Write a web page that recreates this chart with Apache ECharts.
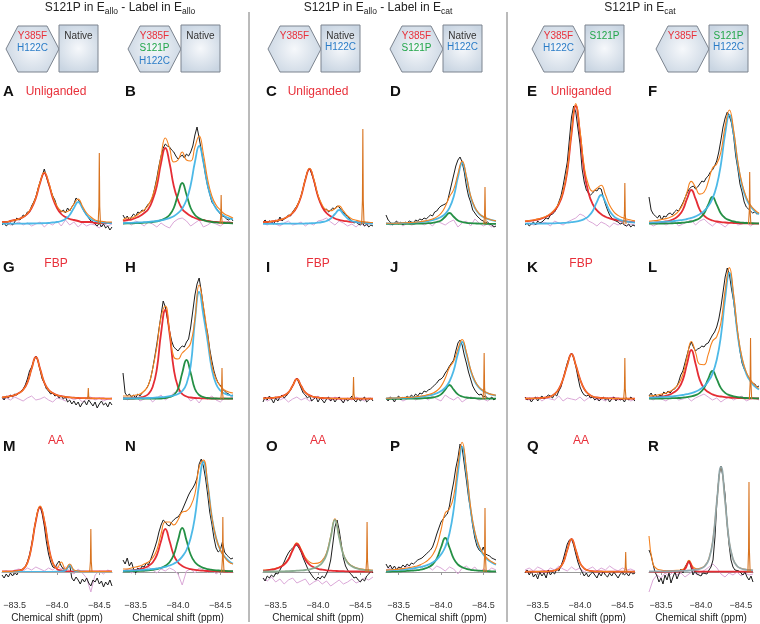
<!DOCTYPE html>
<html>
<head>
<meta charset="utf-8">
<script src="https://cdn.jsdelivr.net/npm/echarts@6/dist/echarts.min.js"></script>
<style>
  html, body { margin: 0; padding: 0; background: #fff; }
  #chart { width: 760px; height: 624px; }
</style>
</head>
<body>
<div id="chart"></div>
<script>
// chemical shift grids (ppm): coarse one for fitted curves, fine one for the spectra
const ppmGrid = [-83.35,-83.4,-83.45,-83.5,-83.55,-83.6,-83.65,-83.7,-83.75,-83.8,-83.85,-83.9,-83.95,-84,-84.05,-84.1,-84.15,-84.2,-84.25,-84.3,-84.35,-84.4,-84.45,-84.5,-84.55,-84.6,-84.65];
const ppmFine = [-83.35,-83.375,-83.4,-83.425,-83.45,-83.475,-83.5,-83.525,-83.55,-83.575,-83.6,-83.625,-83.65,-83.675,-83.7,-83.725,-83.75,-83.775,-83.8,-83.825,-83.85,-83.875,-83.9,-83.925,-83.95,-83.975,-84,-84.025,-84.05,-84.075,-84.1,-84.125,-84.15,-84.175,-84.2,-84.225,-84.25,-84.275,-84.3,-84.325,-84.35,-84.375,-84.4,-84.425,-84.45,-84.475,-84.5,-84.525,-84.55,-84.575,-84.6,-84.625,-84.65];
const tickValues = [-83.5, -84, -84.5];

const panelIds = ['A','B','C','D','E','F','G','H','I','J','K','L','M','N','O','P','Q','R'];
const conditions = ['Unliganded', 'FBP', 'AA'];

// reference peak (position, height) per panel
const spikePpm = [-84.50,-84.51,-84.53,-84.52,-84.53,-84.54,-84.37,-84.52,-84.42,-84.51,-84.53,-84.55,-84.40,-84.53,-84.58,-84.52,-84.54,-84.60];
const spikeHeight = [71,29,95,37,41,52,11,31,22,46,41,61,43,55,50,64,20,90];

// ---- A ----
const specA = [-1,1,-2,0,1,-1,2,6,4,5,9,8,12,12,18,22,27,35,42,48,55,47,40,34,28,24,17,15,12,14,11,16,13,17,20,26,24,22,16,12,9,6,3,2,0,-2,1,-3,0,-4,-2,-6,-3];
const fitA = [2,2,3,4,5,7,10.5,16.5,26.6,41.7,51.8,42,27.5,18,13,12,14,20,25,18,11,7,4,3,2.5,2,2];
const residA = [0,1,-1,0,2,-1,1,-2,0,2,-3,1,-1,3,-2,4,-1,2,-3,1,-2,0,-1,-4,1,-2,0];
const redA = [2,2,3,4,5,7,10,16,26,41,51,41,26,16,10,7,5,4,3,2,2,2,1,1,1,1,1];
const blueA = [0.3,0.3,0.3,0.4,0.4,0.4,0.5,0.5,0.6,0.7,0.8,1,1.5,2,3,5,9,16,22,16,9,5,3,2,1.5,1,0.8];
// ---- B ----
const specB = [9,5,8,4,7,10,8,12,11,14,13,17,20,22,27,36,46,58,68,76,80,78,77,74,72,68,65,67,69,66,70,68,72,78,89,97,86,74,62,49,38,30,22,19,16,13,10,8,7,5,4,6,3];
const fitB = [4,6,6,8,11,14,19,28,44,68,86,76,62,64,72,64,63,77,88,70,45,28,19,14,10,8,6];
const residB = [0,2,-1,3,1,-2,2,0,-3,1,-2,-4,2,5,6,3,-2,1,4,-3,-1,2,0,-2,1,3,0];
const redB = [3,4,4.5,6,8,11,15,24,38,61,76,61,38,24,15,11,8,6,4.5,4,3,2.4,2,1.7,1.5,1.3,1.1];
const greenB = [0.5,0.6,0.7,0.8,1,1.3,1.6,2,2.7,3.8,5.7,9,16,29.5,41,29.5,16,9,5.7,3.8,2.7,2,1.6,1.3,1,0.9,0.7];
const blueB = [0.9,1.1,1.2,1.4,1.6,1.8,2.1,2.5,3,3.7,4.6,5.9,7.8,10.9,15.6,24,39,62,78,62,39,24,15.6,10.9,7.8,5.9,4.6];
// ---- C ----
const specC = [2,4,1,3,2,0,4,2,7,3,5,6,9,8,12,15,18,22,28,36,45,52,56,50,44,35,28,22,18,14,15,12,14,16,15,18,17,14,12,9,8,5,3,1,2,0,-1,1,-2,0,-3,-1,-2];
const fitC = [2,2,2.6,3.2,4.1,5.5,8,11.3,17.4,27.9,44.5,55.7,44.9,28.8,19,14,13.2,15.5,18.1,13.2,8.1,5.1,3.8,2.8,2.2,1.8,1.5];
const residC = [1,-1,2,0,-2,1,3,-1,0,2,-2,1,-1,3,4,6,2,-1,3,1,-2,0,-3,1,-2,0,1];
const redC = [2,2,2.6,3.2,4.1,5.5,7.7,11,17,27.5,44,55,44,27.5,17,11,7.7,5.5,4.1,3.2,2.6,2.1,1.8,1.5,1.3,1.1,1];
const blueC = [0.2,0.2,0.2,0.2,0.2,0.3,0.3,0.3,0.4,0.4,0.5,0.7,0.9,1.3,2,3,5.5,10,14,10,5.5,3,2,1.3,0.9,0.7,0.5];
// ---- D ----
const specD = [9,4,2,-1,1,3,0,2,-1,2,1,3,2,1,4,3,5,4,6,5,7,9,8,12,13,16,18,19,20,22,31,40,49,58,64,67,62,52,38,28,22,14,11,8,6,4,3,1,2,0,-1,-3,-2];
const fitD = [0.7,0.7,0.8,0.9,1.2,1.3,1.5,1.9,2.3,2.9,3.7,5,7.1,10.6,17.5,27.2,34.6,50.2,63,47.8,28.1,16.8,10.6,7.3,5.3,4,3.1];
const residD = [1,-1,0,2,-2,1,-1,0,2,-1,1,-2,3,1,-1,2,4,-3,1,3,-2,5,1,-2,0,-3,1];
const greenD = [0.1,0.1,0.1,0.1,0.2,0.2,0.2,0.3,0.4,0.6,0.8,1.2,2,3.6,7.3,11,7.3,3.6,2,1.2,0.8,0.6,0.4,0.3,0.2,0.2,0.2];
const blueD = [0.6,0.6,0.7,0.8,1,1.1,1.3,1.6,1.9,2.3,2.9,3.8,5.1,7,10.2,16.2,27.3,46.6,61,46.6,27.3,16.2,10.2,7,5.1,3.8,2.9];
// ---- E ----
const specE = [-1,1,-2,0,2,-1,3,1,2,4,6,5,9,10,12,16,22,28,38,50,62,85,107,118,112,96,80,55,42,34,31,29,31,34,33,36,35,27,20,14,9,6,4,3,2,0,1,-1,-2,0,-3,-1,-2];
const fitE = [2.9,3.4,4,4.9,6.1,7.8,10.4,14.3,20.7,32.4,54.1,92,120.4,93.5,57.6,39,32.8,35.8,38.8,29.5,18.7,12.2,8.6,6.4,5,4,3.3];
const residE = [0,1,-1,0,2,1,-2,3,1,-1,2,4,6,10,8,3,1,-2,2,0,-3,1,-1,2,-2,0,-1];
const redE = [2.6,3.1,3.7,4.5,5.7,7.3,9.8,13.6,19.8,31.3,52.7,90.2,118,90.2,52.7,31.3,19.8,13.6,9.8,7.3,5.7,4.5,3.7,3.1,2.6,2.2,1.9];
const blueE = [0.3,0.3,0.3,0.4,0.4,0.5,0.6,0.7,0.9,1.1,1.4,1.8,2.4,3.3,4.9,7.7,13,22.2,29,22.2,13,7.7,4.9,3.3,2.4,1.8,1.4];
// ---- F ----
const specF = [27,14,10,8,6,9,4,8,7,10,11,9,12,14,13,17,21,26,31,35,37,38,35,37,40,43,42,46,48,52,54,58,63,72,84,97,106,112,108,101,88,68,55,40,32,22,17,15,13,11,12,10,11];
const fitF = [2.7,3.2,3.6,4.5,5.4,6.8,9,12.9,19.7,32.1,42.6,36.7,29.9,31.7,42.3,55.8,60.1,72.1,97.8,114,93.9,62.3,40.3,26.9,19,14,10.8];
const residF = [1,-2,0,2,-1,1,3,-2,0,2,4,-1,3,5,1,-2,2,0,-3,1,3,-1,0,2,-2,1,0];
const redF = [1,1.2,1.5,1.9,2.5,3.5,5.2,8.3,14.2,25.3,34,25.3,14.2,8.3,5.2,3.5,2.5,1.9,1.5,1.2,1,0.8,0.7,0.6,0.5,0.45,0.4];
const greenF = [0.3,0.35,0.4,0.46,0.57,0.68,0.84,1,1.35,1.8,2.5,3.8,5.9,10.5,19.4,27,19.4,10.5,5.9,3.8,2.5,1.8,1.35,1,0.84,0.68,0.57];
const blueF = [1.4,1.6,1.7,2.1,2.3,2.6,3,3.6,4.1,5,6.1,7.6,9.8,12.9,17.7,25.3,38.2,59.7,90.4,109,90.4,59.7,38.2,25.3,17.7,12.9,9.8];
// ---- G ----
const specG = [2,-1,3,1,4,2,5,4,6,8,10,14,20,28,32,38,43,38,29,20,16,10,8,5,6,3,4,1,3,0,2,-3,-1,-5,-2,-6,-3,-8,-4,-2,-6,-1,-4,-7,-3,-9,-5,-2,-6,-4,-8,-3,-6];
const fitG = [1.6,2.1,2.8,3.9,5.9,9.2,16.4,30.2,42,30.2,16.4,9.2,5.9,3.9,2.8,2.1,1.6,1.3,1,0.9,0.8,0.7,0.6,0.55,0.5,0.45,0.4];
const residG = [0,1,-1,2,0,-2,1,3,-1,0,2,-1,-3,1,0,-2,2,-1,1,-3,0,2,-1,1,-2,0,1];
const redG = [1.6,2.1,2.8,3.9,5.9,9.2,16.4,30.2,42,30.2,16.4,9.2,5.9,3.9,2.8,2.1,1.6,1.3,1,0.9,0.8,0.7,0.6,0.55,0.5,0.45,0.4];
// ---- H ----
const specH = [26,6,3,5,2,4,1,5,3,6,8,10,14,20,30,42,55,70,84,98,92,80,68,58,52,50,48,51,53,52,57,60,72,88,104,115,121,108,92,76,66,50,38,28,21,16,14,10,8,6,5,3,4];
const fitH = [3,3,3,4,5,8,14,30,52,82,93,68,42,40,46,50,56,80,114,93,64,34,20,13,9,7,6];
const residH = [2,-1,1,3,-2,0,2,-3,1,4,-1,2,6,8,5,3,-2,1,-4,2,0,3,-1,-3,1,0,2];
const redH = [0.5,0.5,0.5,0.8,1.5,2.5,5,12,30,66,89,66,30,12,5,2.5,1.5,1,0.8,0.6,0.5,0.5,0.4,0.4,0.3,0.3,0.3];
const greenH = [0.3,0.3,0.3,0.3,0.3,0.3,0.3,0.4,0.5,0.5,1,2,4,10,26,39,26,10,4,2,1,0.5,0.5,0.4,0.3,0.3,0.3];
const blueH = [0.5,0.5,0.6,0.7,0.8,0.9,1,1.2,1.5,1.8,2.2,2.8,3.5,5,8,15,33,78,107,84,58,30,15,8.5,5.5,4,3];
// ---- I ----
const specI = [-3,2,-1,3,0,-4,1,-2,2,4,1,3,6,9,13,18,21,16,11,6,4,1,3,-2,0,2,-3,1,-1,-4,0,2,-2,1,-3,0,2,-1,-4,1,-2,0,3,-1,-3,1,-2,0,2,-3,-1,1,-2];
const fitI = [0.6,0.8,1,1.5,2.2,3.6,6.6,13.2,20,13.2,6.6,3.6,2.2,1.5,1,0.8,0.6,0.5,0.5,0.4,0.4,0.3,0.3,0.3,0.3,0.3,0.3];
const residI = [1,-2,0,2,-1,1,-3,0,2,-1,1,-2,0,3,-1,1,-2,2,0,-3,1,-1,2,0,-2,1,0];
const redI = [0.6,0.8,1,1.5,2.2,3.6,6.6,13.2,20,13.2,6.6,3.6,2.2,1.5,1,0.8,0.6,0.5,0.5,0.4,0.4,0.3,0.3,0.3,0.3,0.3,0.3];
// ---- J ----
const specJ = [1,-2,2,0,-3,1,3,-1,2,0,3,1,4,2,5,3,6,5,8,7,9,10,12,14,16,19,20,22,26,29,33,36,39,48,56,59,54,44,36,27,20,13,9,6,4,5,2,3,1,0,2,-1,1];
const fitJ = [0.8,0.9,1,1.1,1.5,1.6,1.8,2.2,2.7,3.5,4.4,5.8,8.2,12.6,20.7,31.5,37.8,49.9,59.5,46.8,29.5,18.3,11.9,8.4,6,4.6,3.7];
const residJ = [0,2,-1,1,-2,0,3,-1,1,2,-1,3,0,-2,4,1,-1,2,-3,0,2,1,-1,0,-2,1,0];
const greenJ = [0.1,0.1,0.1,0.1,0.3,0.3,0.3,0.4,0.5,0.8,1,1.5,2.5,4.6,9.3,14,9.3,4.6,2.5,1.5,1,0.8,0.5,0.4,0.3,0.3,0.3];
const blueJ = [0.7,0.8,0.9,1,1.2,1.3,1.5,1.8,2.2,2.7,3.4,4.3,5.7,8,11.4,17.5,28.5,45.3,57,45.3,28.5,17.5,11.4,8,5.7,4.3,3.4];
// ---- K ----
const specK = [2,-1,1,-3,0,2,-2,1,3,0,2,4,3,1,5,3,8,12,20,28,36,42,46,41,33,22,12,7,4,3,4,1,2,-1,1,-2,0,2,-1,1,-3,0,2,-2,1,-1,0,-3,1,-1,2,0,-2];
const fitK = [0.5,0.5,0.6,0.8,1,1.5,2.5,5,10,20,34,45,34,20,10,5,2.5,1.5,1,0.8,0.6,0.5,0.5,0.4,0.4,0.3,0.3];
const residK = [1,-1,0,2,-2,1,0,-1,3,-2,1,0,-1,2,-2,1,3,-1,0,-2,1,2,-1,0,1,-2,0];
const redK = [0.5,0.5,0.6,0.8,1,1.5,2.5,5,10,20,34,45,34,20,10,5,2.5,1.5,1,0.8,0.6,0.5,0.5,0.4,0.4,0.3,0.3];
// ---- L ----
const specL = [3,6,2,5,1,4,3,7,5,8,6,9,10,12,17,24,28,36,44,52,57,52,48,50,51,53,52,55,56,60,64,67,72,80,92,107,122,131,125,110,98,80,64,48,36,30,26,22,18,16,15,12,13];
const fitL = [2.9,3.4,4,4.9,6,7.8,10.7,15.2,24.5,42,57.5,46.6,34.7,34.3,44.6,57.8,62.3,76.4,108.8,131.4,104.6,65.9,41.2,26.9,19.1,13.9,10.6];
const residL = [1,-1,2,0,-2,1,3,-1,0,2,-2,1,3,5,2,-1,1,-3,0,2,-1,1,3,-2,0,1,-1];
const redL = [1.2,1.5,1.9,2.5,3.2,4.6,6.9,10.8,19.1,35.3,49,35.3,19.1,10.8,6.9,4.6,3.2,2.5,1.9,1.5,1.2,1,0.8,0.7,0.6,0.55,0.5];
const greenL = [0.3,0.35,0.4,0.5,0.6,0.7,0.9,1,1.4,1.9,2.6,3.9,6.1,10.9,20.1,28,20.1,10.9,6.1,3.9,2.6,1.9,1.4,1,0.9,0.7,0.6];
const blueL = [1.4,1.5,1.7,1.9,2.2,2.5,2.9,3.4,4,4.8,5.9,7.4,9.5,12.6,17.6,25.2,39,63,100.8,126,100.8,63,39,25.2,17.6,12.6,9.5];
// ---- M ----
const specM = [-3,-6,-2,-5,-1,-4,0,-3,1,2,3,5,10,17,27,40,52,62,66,58,46,30,18,10,5,4,8,11,6,3,1,4,7,-6,-9,-5,-8,-12,-7,-10,-6,-11,-14,-8,-10,-6,-12,-9,-15,-10,-13,-8,-14];
const fitM = [0.5,0.5,0.5,1,1.5,3,9,26,52,66,52,26,9,4,10,3,8,2,1,0.5,0.5,0.5,0.5,0.5,0.5,0.5,0.5];
const residM = [0,1,-1,2,3,1,4,2,5,3,1,4,2,6,3,5,1,-2,3,-1,-6,-20,-3,1,-2,2,0];
const redM = [0.5,0.5,0.5,1,1.5,3,9,26,51,65,51,26,9,3,1.5,1,0.5,0.5,0.5,0.5,0.5,0.5,0.5,0.5,0.5,0.5,0.5];
const blueM = [0.2,0.2,0.2,0.2,0.2,0.2,0.2,0.2,0.2,0.2,0.2,0.2,0.2,0.3,0.6,1.5,7,1.5,0.6,0.3,0.2,0.2,0.2,0.2,0.2,0.2,0.2];
// ---- N ----
const specN = [12,8,14,6,10,3,-1,4,2,6,5,9,7,12,18,24,31,40,47,52,50,47,46,50,52,54,55,58,62,67,72,77,81,84,88,94,108,113,106,94,78,60,48,34,24,20,22,30,20,17,15,13,14];
const fitN = [3,3,4,5,6,8,10,14,22,38,50,50,47,52,60,61,66,78,105,112,88,55,34,22,15,10,8];
const residN = [1,3,-1,2,4,0,5,2,-1,3,1,4,2,-2,-13,1,3,-1,4,2,0,3,-2,1,2,0,1];
const redN = [1,1.3,1.7,2.2,2.8,4,6.1,9.5,16.8,31,43,31,16.8,9.5,6.1,4,2.8,2.2,1.7,1.3,1,0.9,0.7,0.6,0.5,0.5,0.4];
const greenN = [0.6,0.7,0.8,0.9,1.1,1.4,1.7,2.2,2.9,4.1,6.2,9.7,17.2,31.7,44,31.7,17.2,9.7,6.2,4.1,2.9,2.2,1.7,1.4,1.1,0.9,0.8];
const blueN = [1.2,1.3,1.5,1.7,1.9,2.2,2.5,3,3.5,4.2,5.2,6.5,8.3,11,15.4,22,34,55,88,110,88,55,34,22,15.4,11,8.3];
// ---- O ----
const specO = [-6,-9,-4,-6,-3,-5,-1,-2,2,6,10,15,19,22,24,26,27,24,20,14,9,4,0,-3,-6,-8,-5,-7,-4,-6,-2,3,12,28,45,52,42,28,14,6,2,-1,-3,-6,-5,-8,-10,-7,-9,-4,-2,1,-1];
const fitO = [1.8,2.2,2.8,3.7,5.3,8.1,13.3,22.4,29.3,23,14.5,10.1,8.5,8.9,11.6,18.8,35.7,53.1,35.3,17.9,9.9,6.2,4.3,3.2,2.5,2.1,1.8];
const residO = [-6,-9,-5,-10,-7,-12,-8,-6,-11,-9,-7,-13,-10,-8,-12,-9,-14,-11,-8,-12,-10,-7,-11,-9,-6,-8,-5];
const redO = [1.3,1.7,2.3,3.2,4.7,7.4,12.5,21.4,28,21.4,12.5,7.4,4.7,3.2,2.3,1.7,1.3,1.1,0.9,0.8,0.6,0.5,0.5,0.5,0.5,0.5,0.5];
const mixO = [0.5,0.5,0.5,0.5,0.6,0.7,0.8,1,1.3,1.6,2,2.7,3.8,5.7,9.3,17.1,34.4,52,34.4,17.1,9.3,5.7,3.8,2.7,2,1.6,1.3];
// ---- P ----
const specP = [8,4,7,3,6,2,5,4,7,5,8,6,9,8,10,12,13,14,16,18,20,22,25,31,38,44,50,53,56,58,66,79,90,104,114,128,124,108,92,75,62,46,34,26,22,20,25,18,17,16,14,13,12];
const fitP = [1.9,2.2,2.5,2.9,3.4,4,4.7,5.7,7,9.1,12.2,17,25.8,42,59,63,75.8,106.9,129.8,102.6,64.7,40.2,26.3,18.6,13.4,10.2,8];
const residP = [2,4,1,5,3,6,2,4,7,3,5,2,6,4,1,5,3,-2,4,6,2,5,0,3,1,4,2];
const greenP = [0.45,0.5,0.6,0.7,0.85,1.05,1.3,1.7,2.2,3.2,4.8,7.5,13.3,24.5,34,24.5,13.3,7.5,4.8,3.2,2.2,1.7,1.3,1.05,0.85,0.7,0.6];
const blueP = [1.4,1.7,1.9,2.2,2.5,2.9,3.4,4,4.8,5.9,7.4,9.5,12.5,17.5,25,38.5,62.5,99.4,125,99.4,62.5,38.5,25,17.5,12.5,9.5,7.4];
// ---- Q ----
const specQ = [-1,2,-3,1,-5,-2,-7,0,-4,-1,-6,2,-3,0,-2,3,1,6,12,20,28,32,33,27,18,10,4,0,-4,-1,-5,-2,0,-3,-6,-1,-4,1,-3,-5,-1,-4,0,-3,-6,-2,0,-3,-1,-4,0,-2,-1];
const fitQ = [0.3,0.3,0.3,0.4,0.5,0.5,0.8,1.5,3.5,9,22,33,22,9,3.5,1.5,0.8,0.5,0.5,0.4,0.3,0.3,0.3,0.3,0.3,0.3,0.3];
const residQ = [2,4,1,5,3,0,4,2,6,3,1,5,2,4,0,3,5,1,4,2,6,3,1,4,2,3,1];
const redQ = [0.3,0.3,0.3,0.4,0.5,0.5,0.8,1.5,3.5,9,22,33,22,9,3.5,1.5,0.8,0.5,0.5,0.4,0.3,0.3,0.3,0.3,0.3,0.3,0.3];
// ---- R ----
const specR = [22,17,8,0,-4,-10,-6,-12,-3,-8,-1,-11,-5,0,-7,-2,3,-1,5,6,12,5,-3,1,-2,0,-4,-1,1,-2,2,5,12,35,72,96,106,95,78,50,28,12,5,2,0,1,-1,-3,0,-5,-8,-4,-10];
const fitR = [36,8,3,2,1.5,1.5,1.5,1.6,1.9,4.4,11.7,5.2,3.2,4.1,6.5,13.5,33,72,105,72,32,13,6,3.8,2.8,2.3,1.8];
const residR = [-20,-8,-3,-6,-1,-4,0,-3,-1,-5,-2,1,-3,0,2,5,8,4,-2,-5,-1,-3,0,-4,-1,-3,-2];
const redR = [0.2,0.2,0.2,0.2,0.3,0.3,0.3,0.4,0.6,3,10,3,0.6,0.4,0.3,0.3,0.3,0.3,0.3,0.3,0.3,0.3,0.3,0.3,0.3,0.3,0.3];
const mixR = [0.5,0.5,0.6,0.6,0.7,0.8,0.9,1,1.1,1.2,1.5,2,2.5,3.5,6,13,32,72,105,72,32,13,6,3.5,2.5,2,1.5];

// ---------------------------------------------------------------
const FONT = 'Liberation Sans, Arial, Helvetica, sans-serif';
const RED = '#e4222a', GREEN = '#198a3b', BLUE = '#43b5e6', ORANGE = '#f5821f';
const BLACK = '#1c1c1c', PINK = '#dba8d8', SPIKE = '#d8731f';
const TXT_RED = '#e8303a', TXT_GREEN = '#22a64a', TXT_BLUE = '#2a7cc7';

const panels = [
  { spec: specA, fit: fitA, resid: residA, parts: [[redA, RED], [blueA, BLUE]] },
  { spec: specB, fit: fitB, resid: residB, parts: [[redB, RED], [greenB, GREEN], [blueB, BLUE]] },
  { spec: specC, fit: fitC, resid: residC, parts: [[redC, RED], [blueC, BLUE]] },
  { spec: specD, fit: fitD, resid: residD, parts: [[greenD, GREEN], [blueD, BLUE]] },
  { spec: specE, fit: fitE, resid: residE, parts: [[redE, RED], [blueE, BLUE]] },
  { spec: specF, fit: fitF, resid: residF, parts: [[redF, RED], [greenF, GREEN], [blueF, BLUE]] },
  { spec: specG, fit: fitG, resid: residG, parts: [[redG, RED]] },
  { spec: specH, fit: fitH, resid: residH, parts: [[redH, RED], [greenH, GREEN], [blueH, BLUE]] },
  { spec: specI, fit: fitI, resid: residI, parts: [[redI, RED]] },
  { spec: specJ, fit: fitJ, resid: residJ, parts: [[greenJ, GREEN], [blueJ, BLUE]] },
  { spec: specK, fit: fitK, resid: residK, parts: [[redK, RED]] },
  { spec: specL, fit: fitL, resid: residL, parts: [[redL, RED], [greenL, GREEN], [blueL, BLUE]] },
  { spec: specM, fit: fitM, resid: residM, parts: [[redM, RED], [blueM, BLUE]], baseline: true },
  { spec: specN, fit: fitN, resid: residN, parts: [[redN, RED], [greenN, GREEN], [blueN, BLUE]] },
  { spec: specO, fit: fitO, resid: residO, parts: [[redO, RED], [mixO, '#86a98c']], fitBelow: true },
  { spec: specP, fit: fitP, resid: residP, parts: [[greenP, GREEN], [blueP, BLUE]] },
  { spec: specQ, fit: fitQ, resid: residQ, parts: [[redQ, RED]] },
  { spec: specR, fit: fitR, resid: residR, parts: [[redR, RED], [mixR, '#8da6ad']], fitBelow: true }
];

const COL_LEFT = [2, 123, 263, 386, 525, 649];
const ROW_BASE = [224, 399, 572];
const PANEL_W = 110, Y_MIN = -24, Y_MAX = 140;
const X_MIN = -84.65, X_MAX = -83.35;

const zip = (xs, ys) => xs.map((x, k) => [x, ys[k]]);
const spikeShape = (p, h) => [[p + 0.014, 0], [p + 0.005, h * 0.25], [p, h], [p - 0.005, h * 0.25], [p - 0.014, 0]];
const fmt = v => '\u2212' + Math.abs(v).toFixed(1);

const grid = [], xAxis = [], yAxis = [], series = [];
panels.forEach((p, i) => {
  const row = Math.floor(i / 6), col = i % 6;
  grid.push({ left: COL_LEFT[col], top: ROW_BASE[row] - Y_MAX, width: PANEL_W, height: Y_MAX - Y_MIN });
  xAxis.push({
    gridIndex: i, type: 'value', min: X_MIN, max: X_MAX, inverse: true,
    show: row === 2,
    name: 'Chemical shift (ppm)', nameLocation: 'middle', nameGap: 17,
    nameTextStyle: { fontSize: 10, color: '#222', fontFamily: FONT },
    axisLine: { show: true, lineStyle: { color: '#9a9a9a', width: 1 } },
    axisTick: { show: true, customValues: tickValues, length: 3, lineStyle: { color: '#9a9a9a' } },
    axisLabel: { show: true, customValues: tickValues, formatter: fmt, fontSize: 9, color: '#333', margin: 5, fontFamily: FONT },
    splitLine: { show: false }
  });
  yAxis.push({ gridIndex: i, type: 'value', min: Y_MIN, max: Y_MAX, show: false, splitLine: { show: false } });

  const base = { type: 'line', xAxisIndex: i, yAxisIndex: i, symbol: 'none', silent: true, clip: false, animation: false };
  series.push(Object.assign({}, base, { data: zip(ppmGrid, p.resid), lineStyle: { color: PINK, width: 1 }, z: 1 }));
  const black = Object.assign({}, base, { data: zip(ppmFine, p.spec), lineStyle: { color: BLACK, width: 1 }, z: 2 });
  if (p.baseline) {
    black.markLine = { silent: true, symbol: 'none', label: { show: false }, animation: false,
      lineStyle: { color: '#a8a8a8', width: 1, type: 'solid' }, data: [{ yAxis: 0 }] };
  }
  series.push(black);
  p.parts.forEach(([arr, color]) => {
    series.push(Object.assign({}, base, { data: zip(ppmGrid, arr), smooth: true, lineStyle: { color, width: 1.8, opacity: 0.95 }, z: 4 }));
  });
  series.push(Object.assign({}, base, { data: zip(ppmGrid, p.fit), smooth: true,
    lineStyle: { color: ORANGE, width: 1.1 }, z: p.fitBelow ? 3 : 5 }));
  series.push(Object.assign({}, base, { data: spikeShape(spikePpm[i], spikeHeight[i]), lineStyle: { color: SPIKE, width: 1.1 }, z: 6 }));
});

// ---------- decorations ----------
const ctx = document.createElement('canvas').getContext('2d');
const textWidth = (t, size) => { ctx.font = size + 'px "Liberation Sans", Arial, sans-serif'; return ctx.measureText(t).width; };

function textEl(x, y, text, opts) {
  return {
    type: 'text', x, y, silent: true,
    style: Object.assign({ text, fontFamily: FONT, fontSize: 12, fill: '#222',
      align: 'center', verticalAlign: 'middle', textAlign: 'center', textVerticalAlign: 'middle' }, opts || {})
  };
}

function header(cx, cy, parts) {
  const sizes = parts.map(([, sub]) => (sub ? 8.5 : 12));
  const widths = parts.map(([t], k) => textWidth(t, sizes[k]));
  let x = cx - widths.reduce((a, b) => a + b, 0) / 2;
  return parts.map(([t, sub], k) => {
    const el = textEl(x, cy + (sub ? 4 : 0), t, { fontSize: sizes[k], align: 'left', textAlign: 'left' });
    x += widths[k];
    return el;
  });
}

const cellFill = { type: 'radial', x: 0.5, y: 0.5, r: 0.65,
  colorStops: [{ offset: 0, color: '#f6f8fb' }, { offset: 1, color: '#c9d5e2' }] };

function scheme(x0, hexLines, sqLines) {
  const els = [];
  const hx = x0, top = 26, bot = 72, mid = 49, hw = 53, sw = 39;
  els.push({ type: 'polygon', silent: true,
    shape: { points: [[hx, mid], [hx + 12, top], [hx + hw - 12, top], [hx + hw, mid], [hx + hw - 12, bot], [hx + 12, bot]] },
    style: { fill: cellFill, stroke: '#7c848f', lineWidth: 1 } });
  els.push({ type: 'rect', silent: true, shape: { x: hx + hw, y: 25, width: sw, height: 47 },
    style: { fill: cellFill, stroke: '#7c848f', lineWidth: 1 } });
  hexLines.forEach(([t, c], k) => els.push(textEl(hx + hw / 2, 36 + k * 12.5, t, { fontSize: 10, fill: c })));
  sqLines.forEach(([t, c], k) => els.push(textEl(hx + hw + sw / 2, 36 + k * 11.5, t, { fontSize: 10, fill: c })));
  return els;
}

const graphics = [];
graphics.push(...header(120, 8, [['S121P in E', 0], ['allo', 1], [' - Label in E', 0], ['allo', 1]]));
graphics.push(...header(378, 8, [['S121P in E', 0], ['allo', 1], [' - Label in E', 0], ['cat', 1]]));
graphics.push(...header(640, 8, [['S121P in E', 0], ['cat', 1]]));

graphics.push(...scheme(6, [['Y385F', TXT_RED], ['H122C', TXT_BLUE]], [['Native', '#333']]));
graphics.push(...scheme(128, [['Y385F', TXT_RED], ['S121P', TXT_GREEN], ['H122C', TXT_BLUE]], [['Native', '#333']]));
graphics.push(...scheme(268, [['Y385F', TXT_RED]], [['Native', '#333'], ['H122C', TXT_BLUE]]));
graphics.push(...scheme(390, [['Y385F', TXT_RED], ['S121P', TXT_GREEN]], [['Native', '#333'], ['H122C', TXT_BLUE]]));
graphics.push(...scheme(532, [['Y385F', TXT_RED], ['H122C', TXT_BLUE]], [['S121P', TXT_GREEN]]));
graphics.push(...scheme(656, [['Y385F', TXT_RED]], [['S121P', TXT_GREEN], ['H122C', TXT_BLUE]]));

[249, 507].forEach(x => graphics.push({ type: 'line', silent: true,
  shape: { x1: x, y1: 12, x2: x, y2: 622 }, style: { stroke: '#777', lineWidth: 1 } }));

const LETTER_X = [3, 125, 266, 390, 527, 648];
const LETTER_Y = [92, 268, 447];
const COND_X = [56, 318, 581];
const COND_Y = [92, 264, 441];
panelIds.forEach((id, i) => {
  const row = Math.floor(i / 6), col = i % 6;
  graphics.push(textEl(LETTER_X[col], LETTER_Y[row], id,
    { fontSize: 15, fontWeight: 'bold', fill: '#111', align: 'left', textAlign: 'left' }));
});
conditions.forEach((c, row) => COND_X.forEach(x => graphics.push(textEl(x, COND_Y[row], c, { fontSize: 12, fill: TXT_RED }))));

const chart = echarts.init(document.getElementById('chart'), null, { renderer: 'canvas' });
chart.setOption({
  backgroundColor: '#ffffff',
  animation: false,
  grid, xAxis, yAxis, series,
  graphic: graphics
});
</script>
</body>
</html>
